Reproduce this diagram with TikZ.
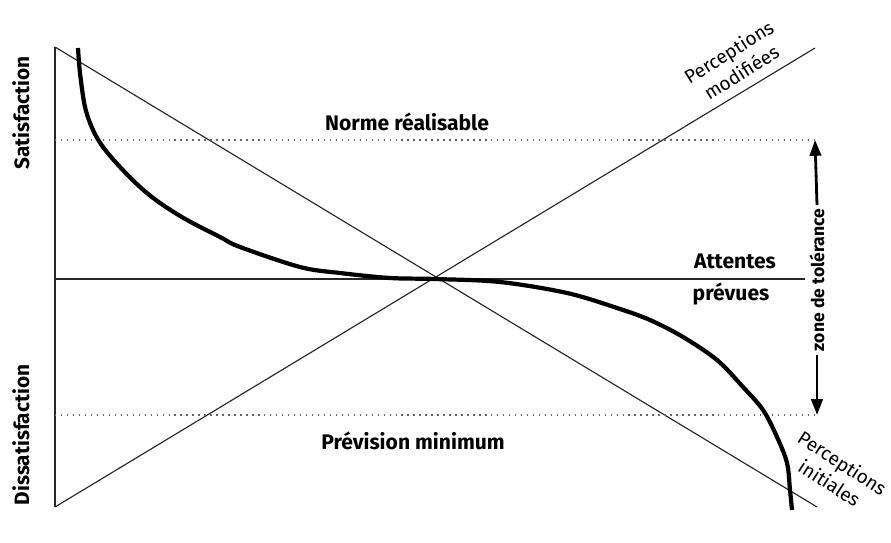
\documentclass[tikz,border=0pt]{standalone}
\usepackage{fontspec}
\setmainfont{Fira Sans}
\usetikzlibrary{arrows.meta}
\begin{document}
\begin{tikzpicture}[x=0.02cm,y=-0.02cm,
  thinline/.style={line width=0.65pt,black!85},
  dotline/.style={line width=0.7pt,black!60,dash pattern=on 0.8pt off 2.6pt},
  thickcurve/.style={line width=2.4pt,black,line cap=butt},
  tolarrow/.style={line width=1.6pt,-{Triangle[length=9pt,width=6.5pt]}},
  boldlab/.style={font=\fontsize{12}{14}\selectfont\bfseries,inner sep=0pt},
  axislab/.style={font=\fontsize{11.8}{14}\selectfont\bfseries,inner sep=0pt,rotate=90},
  slantlab/.style={font=\fontsize{10.8}{13.5}\selectfont,inner sep=0pt,align=center}]
\path[use as bounding box] (0,0) rectangle (891,543);
% key points
\coordinate (tl) at (55,47);
\coordinate (bl) at (55,507);
\coordinate (tr) at (815,48);
\coordinate (br) at (817,507);
\coordinate (mr) at (805,279);
\coordinate (ml) at (55,279);
\coordinate (dtl) at (55,140);
\coordinate (dtr) at (815,140);
\coordinate (dbl) at (55,415);
\coordinate (dbr) at (817,415);
% axis
\draw[thinline] (tl) -- (bl);
% diagonals and horizontal
\draw[thinline] (tl) -- (br);
\draw[thinline] (bl) -- (tr);
\draw[thinline] (ml) -- (mr);
% dotted limits
\draw[dotline] (dtl) -- (dtr);
\draw[dotline] (dbl) -- (dbr);
% thick curve
\draw[thickcurve] plot[smooth,tension=0.55] coordinates {
 (78,48) (80,73) (85,107) (93,130) (103,147) (120,167) (140,187) (160,203)
 (187,220) (220,237) (240,247) (300,267) (340,273) (390,278) (435,279)
 (500,282) (567,293) (617,308) (650,320) (683,337) (717,360) (743,387)
 (763,410) (777,437) (787,463) (790,490) (792,510)};
% zone de tolerance
\node[font=\fontsize{10}{12}\selectfont\bfseries,rotate=90,fill=white,inner sep=2pt] (zone) at (817,280) {zone de tolérance};
\draw[tolarrow] (zone.east) -- (dtr);
\draw[tolarrow] (zone.west) -- (dbr);
% labels
\node[axislab] (sat) at (21,113) {Satisfaction};
\node[axislab] (dis) at (21,435) {Dissatisfaction};
\node[boldlab] (norme) at (407,122) {Norme réalisable};
\node[boldlab] (att) at (735,261) {Attentes};
\node[boldlab] (prev) at (731,294) {prévues};
\node[boldlab] (prevmin) at (413,441) {Prévision minimum};
\node[slantlab,rotate=32] (pmod) at (735,62) {Perceptions\\modifiées};
\node[slantlab,rotate=-33] (pini) at (836,473) {Perceptions\\initiales};
\end{tikzpicture}
\end{document}
